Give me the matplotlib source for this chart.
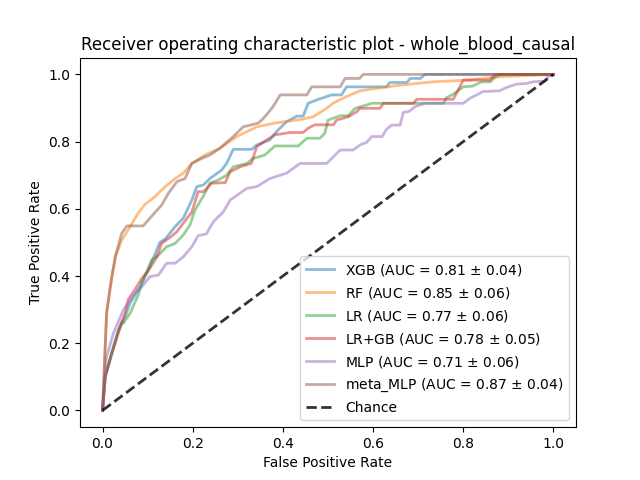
import matplotlib
matplotlib.use("Agg")
import matplotlib.pyplot as plt

title = "Receiver operating characteristic plot - whole_blood_causal"
names = ["XGB", "RF", "LR", "LR+GB", "MLP", "meta_MLP"]
aucs = [0.81, 0.85, 0.77, 0.78, 0.71, 0.87]
auc_sds = [0.04, 0.06, 0.06, 0.05, 0.06, 0.04]

xgb_fpr = [0, 0.006, 0.02, 0.035, 0.05, 0.061, 0.083, 0.105, 0.127, 0.139, 0.161, 0.179, 0.198, 0.209, 0.224, 0.238, 0.264, 0.275, 0.29, 0.331, 0.342, 0.371, 0.386, 0.408, 0.431, 0.445, 0.456, 0.475, 0.508, 0.53, 0.541, 0.63, 0.637, 0.675, 0.682, 0.705, 0.715, 1.0]
xgb_tpr = [0, 0.10, 0.17, 0.239, 0.279, 0.319, 0.368, 0.428, 0.50, 0.51, 0.547, 0.572, 0.626, 0.666, 0.671, 0.69, 0.715, 0.735, 0.777, 0.777, 0.79, 0.805, 0.83, 0.859, 0.876, 0.876, 0.914, 0.924, 0.939, 0.939, 0.963, 0.963, 0.976, 0.976, 0.988, 0.988, 1.0, 1.0]

rf_fpr = [0, 0.009, 0.02, 0.03, 0.0425, 0.061, 0.079, 0.094, 0.116, 0.139, 0.161, 0.179, 0.198, 0.227, 0.26, 0.298, 0.342, 0.386, 0.44, 0.467, 0.497, 0.512, 0.541, 0.571, 0.615, 0.66, 0.733, 0.808, 0.881, 1.0]
rf_tpr = [0, 0.29, 0.398, 0.462, 0.507, 0.547, 0.587, 0.613, 0.636, 0.666, 0.69, 0.706, 0.735, 0.76, 0.78, 0.815, 0.844, 0.856, 0.866, 0.874, 0.899, 0.915, 0.934, 0.951, 0.96, 0.968, 0.978, 0.983, 0.993, 1.0]

lr_fpr = [0, 0.006, 0.02, 0.035, 0.0425, 0.046, 0.061, 0.079, 0.087, 0.109, 0.124, 0.142, 0.161, 0.179, 0.194, 0.205, 0.227, 0.238, 0.257, 0.275, 0.29, 0.32, 0.334, 0.36, 0.382, 0.434, 0.453, 0.482, 0.493, 0.50, 0.527, 0.545, 0.56, 0.586, 0.597, 0.756, 0.763, 0.778, 0.8, 0.82, 0.841, 0.86, 0.874, 0.885, 1.0]
lr_tpr = [0, 0.10, 0.17, 0.235, 0.264, 0.259, 0.289, 0.343, 0.378, 0.448, 0.462, 0.487, 0.497, 0.522, 0.552, 0.596, 0.646, 0.676, 0.686, 0.70, 0.725, 0.735, 0.75, 0.76, 0.787, 0.787, 0.81, 0.81, 0.825, 0.864, 0.877, 0.877, 0.899, 0.909, 0.914, 0.914, 0.931, 0.941, 0.963, 0.965, 0.978, 0.978, 0.996, 1.0, 1.0]

lrgb_fpr = [0, 0.006, 0.02, 0.035, 0.05, 0.057, 0.072, 0.087, 0.1, 0.12, 0.131, 0.15, 0.165, 0.179, 0.198, 0.212, 0.224, 0.242, 0.272, 0.283, 0.305, 0.33, 0.342, 0.364, 0.382, 0.416, 0.445, 0.456, 0.471, 0.512, 0.519, 0.545, 0.564, 0.571, 0.615, 0.623, 0.689, 0.697, 0.778, 0.8, 0.859, 0.87, 1.0]
lrgb_tpr = [0, 0.10, 0.165, 0.23, 0.29, 0.33, 0.36, 0.393, 0.413, 0.455, 0.497, 0.515, 0.532, 0.557, 0.59, 0.651, 0.651, 0.676, 0.678, 0.71, 0.725, 0.735, 0.785, 0.805, 0.82, 0.827, 0.827, 0.84, 0.85, 0.85, 0.864, 0.874, 0.889, 0.899, 0.899, 0.914, 0.914, 0.926, 0.926, 0.983, 0.983, 1.0, 1.0]

mlp_fpr = [0, 0.009, 0.024, 0.046, 0.072, 0.087, 0.105, 0.124, 0.142, 0.161, 0.179, 0.198, 0.212, 0.23, 0.246, 0.268, 0.283, 0.32, 0.342, 0.371, 0.408, 0.438, 0.497, 0.512, 0.527, 0.556, 0.571, 0.586, 0.597, 0.62, 0.63, 0.641, 0.66, 0.667, 0.68, 0.693, 0.715, 0.80, 0.815, 0.83, 0.844, 0.88, 0.896, 0.918, 0.94, 0.955, 0.98, 0.988, 1.0]
mlp_tpr = [0, 0.16, 0.229, 0.299, 0.349, 0.368, 0.398, 0.403, 0.438, 0.438, 0.457, 0.487, 0.52, 0.525, 0.562, 0.591, 0.626, 0.661, 0.666, 0.69, 0.706, 0.735, 0.735, 0.755, 0.775, 0.775, 0.79, 0.798, 0.815, 0.815, 0.837, 0.849, 0.849, 0.887, 0.89, 0.904, 0.914, 0.914, 0.929, 0.939, 0.949, 0.951, 0.961, 0.971, 0.973, 0.978, 0.98, 0.993, 1.0]

meta_fpr = [0, 0.009, 0.0166, 0.028, 0.0425, 0.054, 0.09, 0.105, 0.131, 0.146, 0.165, 0.183, 0.198, 0.22, 0.238, 0.26, 0.29, 0.312, 0.345, 0.353, 0.367, 0.378, 0.394, 0.453, 0.464, 0.527, 0.538, 0.57, 0.578, 1.0]
meta_tpr = [0, 0.29, 0.36, 0.457, 0.527, 0.549, 0.549, 0.572, 0.611, 0.646, 0.681, 0.69, 0.735, 0.75, 0.76, 0.78, 0.815, 0.844, 0.855, 0.864, 0.885, 0.904, 0.939, 0.939, 0.963, 0.963, 0.988, 0.988, 1.0, 1.0]

fprs = [xgb_fpr, rf_fpr, lr_fpr, lrgb_fpr, mlp_fpr, meta_fpr]
tprs = [xgb_tpr, rf_tpr, lr_tpr, lrgb_tpr, mlp_tpr, meta_tpr]

fig, ax = plt.subplots(figsize=(6.4, 4.8), dpi=100)
for i, name in enumerate(names):
    ax.plot(fprs[i], tprs[i], color="C%d" % i, lw=2, alpha=0.5,
            label="%s (AUC = %0.2f $\\pm$ %0.2f)" % (name, aucs[i], auc_sds[i]))
ax.plot([0, 1], [0, 1], linestyle="--", lw=2, color="k", alpha=0.8, label="Chance")
ax.set_xlim(-0.05, 1.05)
ax.set_ylim(-0.05, 1.05)
ax.set_xlabel("False Positive Rate")
ax.set_ylabel("True Positive Rate")
ax.set_title(title)
ax.legend(loc="lower right")
fig.savefig("out.png", dpi=100)
